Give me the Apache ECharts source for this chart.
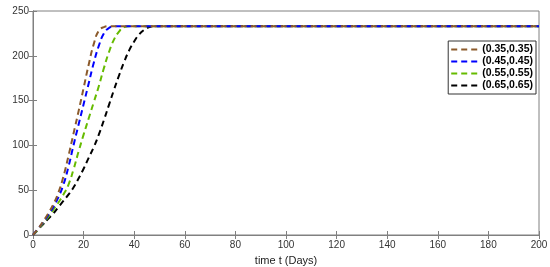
<!DOCTYPE html>
<html>
<head>
<meta charset="utf-8">
<script src="https://cdn.jsdelivr.net/npm/echarts@6/dist/echarts.min.js"></script>
<style>
  html, body { margin: 0; padding: 0; background: #fff; }
  #chart { width: 550px; height: 267px; }
</style>
</head>
<body>
<div id="chart"></div>
<script>
// time in days (every 2 days until the curves settle, then the end point)
const days = [0, 2, 4, 6, 8, 10, 12, 14, 16, 18, 20, 22, 24, 26, 28, 30, 32, 34, 36, 38, 40, 42, 44, 46, 48, 50, 200];

const names = ['(0.35,0.35)', '(0.45,0.45)', '(0.55,0.55)', '(0.65,0.65)'];
const colors = ['#8b5a2b', '#0000ff', '#66bb00', '#000000'];

const r035 = [0, 7, 15, 24, 34, 47, 65, 88, 113, 138, 164, 190, 213, 228, 232, 233, 233, 233, 233, 233, 233, 233, 233, 233, 233, 233, 233];
const r045 = [0, 7, 14, 22, 31, 42, 56, 76, 100, 123, 146, 169, 192, 211, 225, 231, 233, 233, 233, 233, 233, 233, 233, 233, 233, 233, 233];
const r055 = [0, 6, 13, 20, 28, 36, 45, 56, 73, 93, 112, 130, 148, 166, 186, 204, 218, 227, 232, 233, 233, 233, 233, 233, 233, 233, 233];
const r065 = [0, 6, 12, 18, 24, 31, 38, 45, 53, 63, 74, 86, 98, 112, 128, 145, 162, 178, 193, 206, 216, 224, 229, 232, 233, 233, 233];

const seriesVals = [r035, r045, r055, r065];

const chart = echarts.init(document.getElementById('chart'));

const axisCol = '#808080';
const labelStyle = { color: '#333', fontSize: 10, fontFamily: 'Liberation Sans, Arial, sans-serif' };

chart.setOption({
  animation: false,
  grid: { left: 33, right: 11, top: 11, bottom: 32, outerBoundsMode: 'none', containLabel: false, show: true, borderColor: axisCol, borderWidth: 1 },
  legend: {
    orient: 'vertical',
    right: 14,
    top: 41,
    data: names,
    itemWidth: 30,
    itemHeight: 11,
    itemGap: 1,
    padding: [3, 3, 3, 2],
    borderColor: '#333',
    borderWidth: 1,
    backgroundColor: '#fff',
    itemStyle: { opacity: 0 },
    textStyle: { color: '#000', fontSize: 10.5, lineHeight: 11, fontWeight: 'bold', fontFamily: 'Liberation Sans, Arial, sans-serif', padding: [0, 0, 0, -4] }
  },
  xAxis: [{
    type: 'value', min: 0, max: 200, interval: 20,
    name: 'time t (Days)', nameLocation: 'middle', nameGap: 20,
    nameTextStyle: { color: '#222', fontSize: 11, fontFamily: 'Liberation Sans, Arial, sans-serif' },
    axisLine: { show: true, lineStyle: { color: axisCol } },
    axisTick: { show: true, inside: true, length: 4, lineStyle: { color: axisCol } },
    axisLabel: Object.assign({ margin: 5 }, labelStyle),
    splitLine: { show: false }
  }, {
    type: 'value', min: 0, max: 200, interval: 20, position: 'top',
    axisLine: { show: true, lineStyle: { color: axisCol } },
    axisTick: { show: true, inside: true, length: 4, lineStyle: { color: axisCol } },
    axisLabel: { show: false },
    splitLine: { show: false }
  }],
  yAxis: [{
    type: 'value', min: 0, max: 250, interval: 50,
    name: 'Recovered class', nameLocation: 'middle', nameGap: 21,
    nameTextStyle: { color: '#222', fontSize: 11, fontFamily: 'Liberation Sans, Arial, sans-serif' },
    axisLine: { show: true, lineStyle: { color: axisCol } },
    axisTick: { show: true, inside: true, length: 4, lineStyle: { color: axisCol } },
    axisLabel: Object.assign({ margin: 4 }, labelStyle),
    splitLine: { show: false }
  }, {
    type: 'value', min: 0, max: 250, interval: 50, position: 'right',
    axisLine: { show: true, lineStyle: { color: axisCol } },
    axisTick: { show: true, inside: true, length: 4, lineStyle: { color: axisCol } },
    axisLabel: { show: false },
    splitLine: { show: false }
  }],
  series: seriesVals.map((vals, i) => ({
    name: names[i],
    type: 'line',
    symbol: 'none',
    smooth: true,
    z: 10 - i,
    itemStyle: { color: colors[i] },
    lineStyle: { color: colors[i], width: 2, type: [6, 4] },
    data: days.map((d, k) => [d, vals[k]])
  }))
});
</script>
</body>
</html>
